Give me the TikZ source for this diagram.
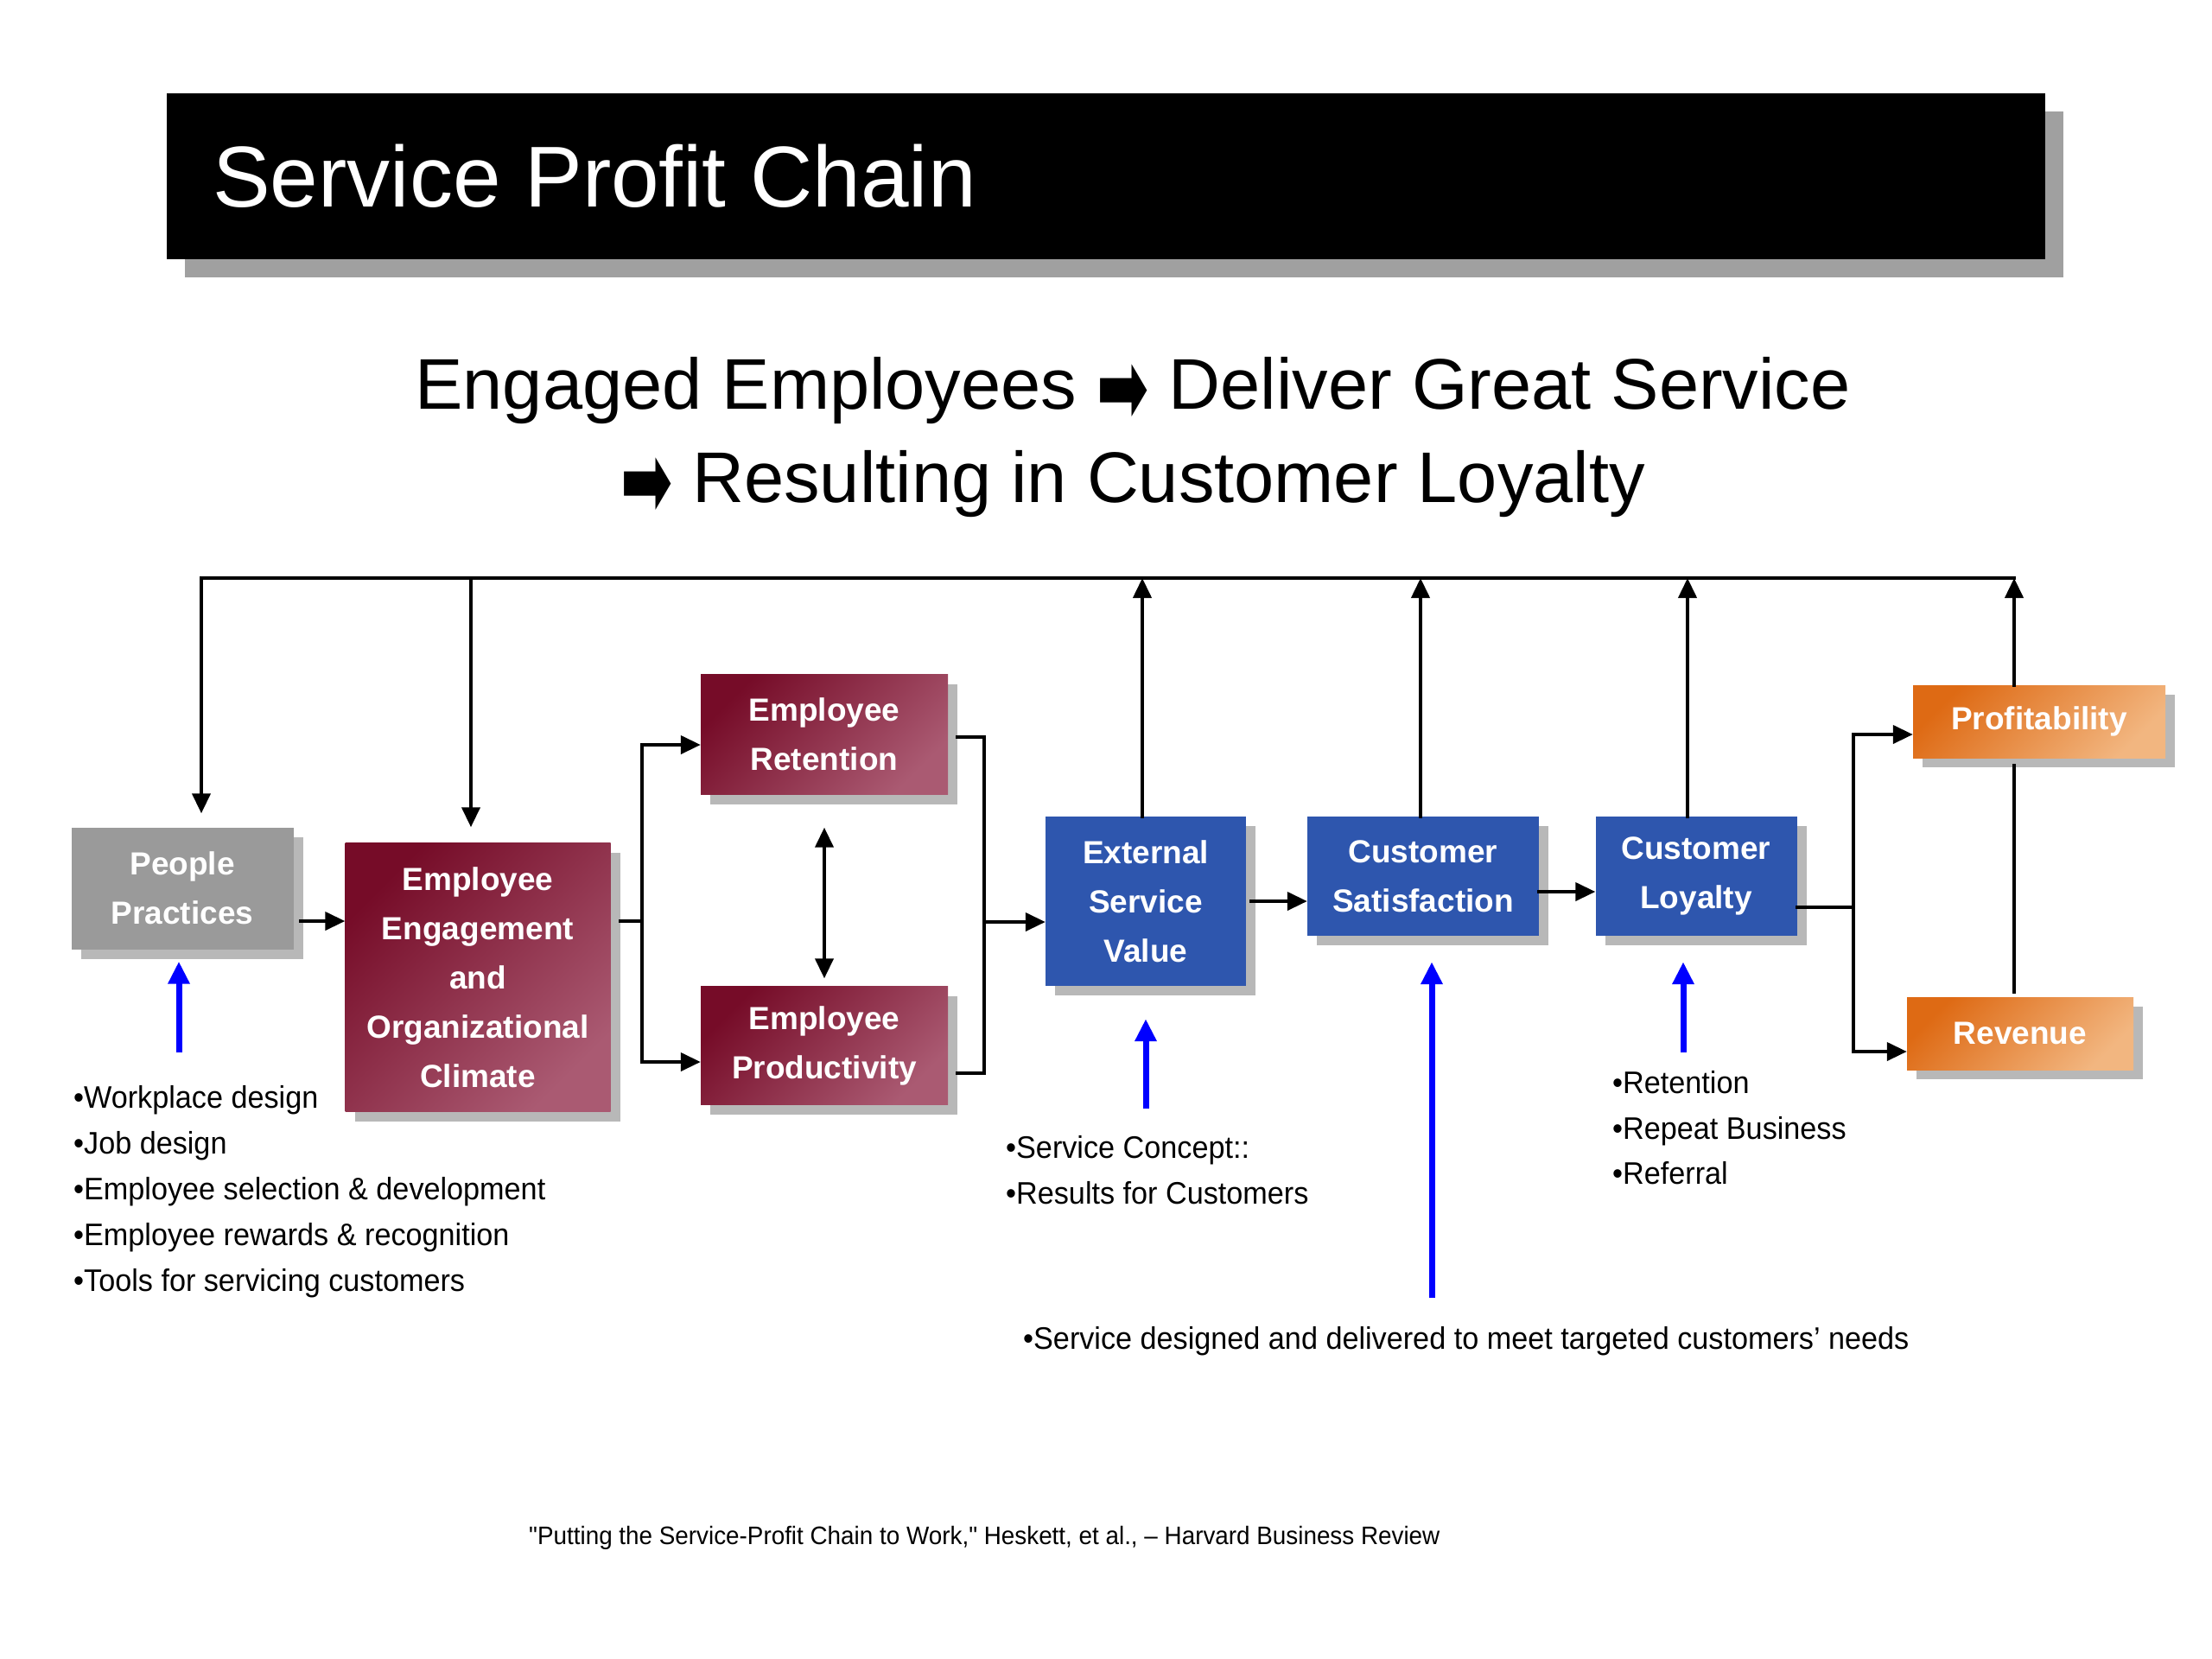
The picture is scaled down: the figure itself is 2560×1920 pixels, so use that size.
\documentclass[tikz,border=0pt]{standalone}
\usepackage{fontspec}
\usepackage{graphicx}
\setmainfont{Liberation Sans}
\newfontfamily\listfont{Liberation Sans}[FakeStretch=0.95]
\newfontfamily\symfont{DejaVu Sans}
\newcommand{\bigarr}{\raisebox{-17pt}{\scalebox{1}[1.7]{\symfont\fontsize{72}{108}\selectfont ➡}}}
\usetikzlibrary{arrows.meta,shadows,calc}
\definecolor{ppgray}{HTML}{9A9A9A}
\definecolor{shgray}{HTML}{B8B8B8}
\definecolor{tgray}{HTML}{A0A0A0}
\definecolor{marA}{HTML}{760C28}
\definecolor{marB}{HTML}{AA5A72}
\definecolor{orA}{HTML}{DE6A14}
\definecolor{orB}{HTML}{F2B680}
\definecolor{cblue}{HTML}{2E56AE}
\definecolor{pureblue}{HTML}{0000FF}
\begin{document}
\begin{tikzpicture}[x=1pt,y=-1pt,
  boxbase/.style={draw=none, inner sep=0pt, align=center, text=white,
    font=\fontsize{37}{57}\selectfont\bfseries,
    general shadow={fill=shgray, shadow xshift=11pt, shadow yshift=-11pt}},
  graybox/.style={boxbase, fill=ppgray},
  marbox/.style={boxbase, top color=marA, bottom color=marB, shading angle=45},
  bluebox/.style={boxbase, fill=cblue},
  orbox/.style={boxbase, top color=orA, bottom color=orB, shading angle=45},
  conn/.style={line width=4pt, black, line cap=rect},
  arr/.style={conn, -{Triangle[width=21pt,length=23pt]}},
  darr/.style={conn, {Triangle[width=21pt,length=23pt]}-{Triangle[width=21pt,length=23pt]}},
  barr/.style={line width=7pt, color=pureblue, -{Triangle[width=24pt,length=26pt]}},
  listtext/.style={font=\listfont\fontsize{36}{44}\selectfont, anchor=west, inner sep=0pt, text height=30pt, text depth=4pt},
]
\useasboundingbox (0,0) rectangle (2560,1920);

% title bar
\node[fill=black, minimum width=2174pt, minimum height=192pt, inner sep=0pt,
  general shadow={fill=tgray, shadow xshift=21pt, shadow yshift=-21pt}] (tb) at (1280,204) {};
\node[anchor=west, inner sep=0pt, text=white, font=\fontsize{100}{120}\selectfont] (tt) at (246,204) {Service Profit Chain};

% subtitle
\node[align=center, inner sep=0pt, font=\fontsize{83}{108}\selectfont] (sub) at (1311,506)
  {Engaged Employees \bigarr{} Deliver Great Service\\\bigarr{} Resulting in Customer Loyalty};

% boxes
\node[graybox, minimum width=257pt, minimum height=141pt] (pp) at (211,1028) {People\\Practices};
\node[marbox, minimum width=307pt, minimum height=311pt] (ee) at (553,1131) {Employee\\Engagement\\and\\Organizational\\Climate};
\node[marbox, minimum width=286pt, minimum height=139pt] (er) at (954,850) {Employee\\Retention};
\node[marbox, minimum width=286pt, minimum height=137pt] (ep) at (954,1210) {Employee\\Productivity};
\node[bluebox, minimum width=232pt, minimum height=196pt] (esv) at (1326,1043) {External\\Service\\Value};
\node[bluebox, minimum width=268pt, minimum height=138pt] (cs) at (1647,1014) {Customer\\Satisfaction};
\node[bluebox, minimum width=233pt, minimum height=138pt] (cl) at (1963,1014) {Customer\\Loyalty};
\node[orbox, minimum width=292pt, minimum height=84pt] (pf) at (2360,835) {Profitability};
\node[orbox, minimum width=262pt, minimum height=84pt] (rv) at (2338,1196) {Revenue};

% junction coordinates
\coordinate (t1) at (233,669);
\coordinate (t2) at (545,669);
\coordinate (t4) at (1322,669);
\coordinate (t5) at (1644,669);
\coordinate (t6) at (1953,669);
\coordinate (t7) at (2331,669);
\coordinate (ja) at (743,1066);
\coordinate (jb) at (743,862);
\coordinate (jc) at (743,1229);
\coordinate (jd) at (1139,853);
\coordinate (je) at (1139,1242);
\coordinate (jf) at (1139,1067);
\coordinate (jg) at (2145,1050);
\coordinate (jh) at (2145,850);
\coordinate (ji) at (2145,1217);

% feedback loop on top
\draw[conn] (t1) -- (t7);
\draw[arr] (t1) -- ($(pp.north -| t1)+(0,-16)$);
\draw[arr] (t2) -- ($(ee.north -| t2)+(0,-18)$);
\draw[arr] (esv.north -| t4) -- (t4);
\draw[arr] (cs.north -| t5) -- (t5);
\draw[arr] (cl.north -| t6) -- (t6);
\draw[arr] (pf.north -| t7) -- (t7);
\draw[conn] ($(rv.north -| t7)+(0,-6)$) -- ($(pf.south -| t7)+(0,9)$);

% main chain
\draw[arr] ($(pp.east |- ja)+(8,0)$) -- (ee.west |- ja);
\draw[conn] ($(ee.east |- ja)+(11,0)$) -- (ja);
\draw[conn] (jb) -- (jc);
\draw[arr] (jb) -- (er.west |- jb);
\draw[arr] (jc) -- (ep.west |- jc);
\draw[darr] ($(er.south)+(0,38)$) -- ($(ep.north)+(0,-9)$);
\draw[conn] ($(er.east |- jd)+(11,0)$) -- (jd) -- (je) -- ($(ep.east |- je)+(11,0)$);
\draw[arr] (jf) -- (esv.west |- jf);
\draw[arr] ($(esv.east)+(6,0)$) -- (cs.west |- esv.east);
\draw[arr] ($(cs.east)+(0,18)$) -- ($(cl.west)+(0,18)$);
\draw[conn] ($(cl.east)+(0,36)$) -- (jg);
\draw[conn] (jh) -- (ji);
\draw[arr] (jh) -- (pf.west |- jh);
\draw[arr] (ji) -- (rv.west |- ji);

% blue input arrows
\coordinate (b1) at (207,1218);
\coordinate (b2) at (1326,1283);
\coordinate (b3) at (1657,1502);
\coordinate (b4) at (1948,1218);
\draw[barr] (b1) -- ($(pp.south -| b1)+(0,14)$);
\draw[barr] (b2) -- ($(esv.south -| b2)+(0,38)$);
\draw[barr] (b3) -- ($(cs.south -| b3)+(0,30)$);
\draw[barr] (b4) -- ($(cl.south -| b4)+(0,30)$);

% lists
\node[listtext] (l1) at (85,1269) {•Workplace design};
\node[listtext] (l2) at (85,1322) {•Job design};
\node[listtext] (l3) at (85,1375) {•Employee selection \& development};
\node[listtext] (l4) at (85,1428) {•Employee rewards \& recognition};
\node[listtext] (l5) at (85,1481) {•Tools for servicing customers};

\node[listtext] (s1) at (1164,1327) {•Service Concept::};
\node[listtext] (s2) at (1164,1380) {•Results for Customers};

\node[listtext] (r1) at (1866,1252) {•Retention};
\node[listtext] (r2) at (1866,1305) {•Repeat Business};
\node[listtext] (r3) at (1866,1357) {•Referral};

\node[listtext] (d1) at (1184,1548) {•Service designed and delivered to meet targeted customers’ needs};

\node[anchor=west, inner sep=0pt, font=\listfont\fontsize{29.3}{35}\selectfont] (cit) at (612,1780)
  {"Putting the Service-Profit Chain to Work," Heskett, et al., – Harvard Business Review};
\end{tikzpicture}
\end{document}
